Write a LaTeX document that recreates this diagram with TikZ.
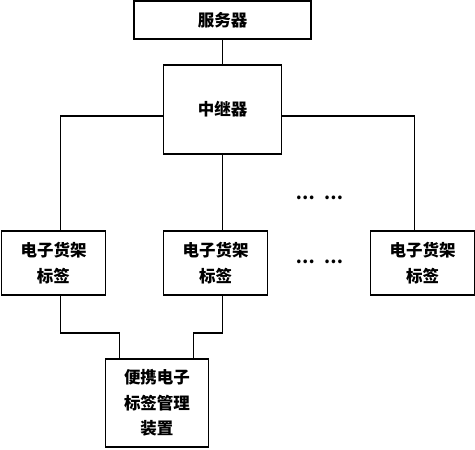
\documentclass[tikz,border=0pt]{standalone}
\usepackage{fontspec}
\setmainfont{Noto Sans CJK SC}
\usetikzlibrary{positioning}
\tikzset{unit/.style={rectangle,draw=black,line width=1.2pt,fill=white,inner sep=0pt,outer sep=0pt,align=center,font=\bfseries\fontsize{16.5pt}{25.5pt}\selectfont}}
\tikzset{tagbox/.style={unit,minimum width=104pt,minimum height=64pt}}
\tikzset{dots/.style={inner sep=0pt,font=\bfseries\fontsize{17pt}{17pt}\selectfont}}
\tikzset{link/.style={line width=1.2pt}}

\begin{document}
\begin{tikzpicture}[x=1pt,y=1pt]
\useasboundingbox (0,0) rectangle (475,-450);
\begin{scope}[node distance=26pt]
	\node (server) [unit, minimum width=177pt, minimum height=38pt] at (222.5,-20) {服务器};
	\node (relay) [unit, minimum width=118pt, minimum height=89pt, below =of server] {中继器};
	\node (midtag) [tagbox, below =77pt of relay.south west, anchor=north west] {电子货架\\标签};
	\node (lefttag) [tagbox, left =58pt of midtag] {电子货架\\标签};
	\node (righttag) [tagbox, right =103pt of midtag] {电子货架\\标签};
	\node (device) [unit, minimum width=103pt, minimum height=88pt, below =64pt of lefttag.south east, anchor=north west] {便携电子\\标签管理\\装置};
	\node (dotsb) [dots, right =28pt of midtag, yshift=1.5pt] {…\hspace{9pt}…};
	\node (dotsa) [dots] at ([yshift=64pt]dotsb) {…\hspace{9pt}…};
\end{scope}
\draw [link] (server) -- (relay);
\draw [link] ([yshift=-6.5pt]relay.west) -| ([xshift=7pt]lefttag.north);
\draw [link] ([yshift=-6.5pt]relay.east) -| ([xshift=-8pt]righttag.north);
\draw [link] (relay.south) -- (relay.south |- midtag.north);
\draw [link] ([xshift=7pt]lefttag.south) -- ++(0,-38) -| ([xshift=-37.5pt]device.north);
\draw [link] (relay.south |- midtag.south) -- ++(0,-38) -| ([xshift=36.5pt]device.north);
\end{tikzpicture}
\end{document}
